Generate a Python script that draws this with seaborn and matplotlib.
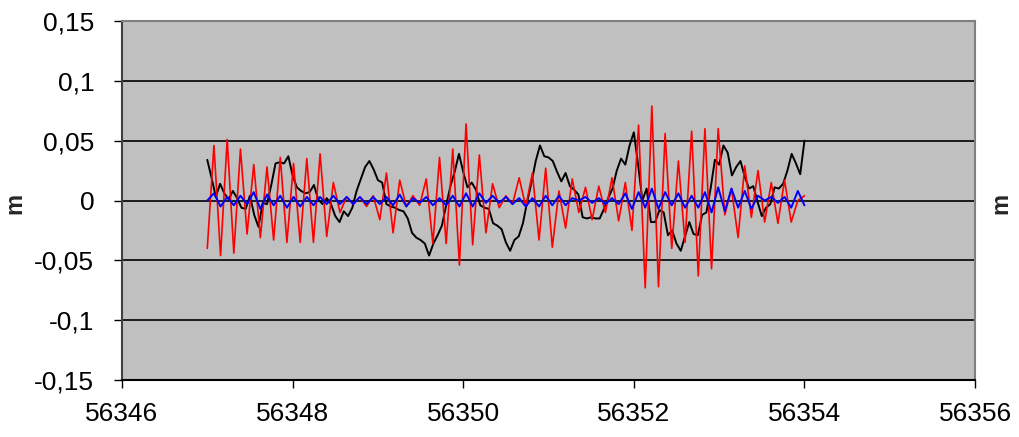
import numpy as np
import pandas as pd
import matplotlib
matplotlib.use("Agg")
import matplotlib.pyplot as plt
import seaborn as sns

# valores (MJD, metros)
t_red = np.linspace(56347.0, 56354.0, 91)
red = [-0.040, 0.046, -0.046, 0.051, -0.044, 0.043, -0.028, 0.030, -0.031, 0.028,
       -0.033, 0.036, -0.035, 0.031, -0.035, 0.035, -0.035, 0.039, -0.030, 0.015,
       -0.010, 0.003, -0.003, 0.003, -0.005, 0.004, -0.016, 0.023, -0.027, 0.017,
       -0.005, 0.004, -0.004, 0.018, -0.036, 0.036, -0.036, 0.043, -0.054, 0.064,
       -0.037, 0.038, -0.027, 0.014, -0.006, 0.004, -0.003, 0.019, -0.005, 0.023,
       -0.033, 0.027, -0.039, 0.008, -0.023, 0.018, -0.010, 0.011, -0.016, 0.012,
       -0.010, 0.019, -0.017, 0.015, -0.025, 0.063, -0.073, 0.079, -0.072, 0.056,
       -0.040, 0.033, -0.035, 0.058, -0.063, 0.060, -0.057, 0.060, -0.012, 0.010,
       -0.031, 0.029, -0.014, 0.025, -0.018, 0.015, -0.019, 0.017, -0.018, 0.000,
       0.004]

t_blue = np.linspace(56347.0, 56354.0, 91)
blue = [0.000, 0.006, -0.005, 0.003, -0.004, 0.004, -0.003, 0.007, -0.007, 0.005,
        -0.004, 0.004, -0.006, 0.003, -0.005, 0.003, -0.004, 0.003, -0.003, 0.004,
        -0.003, 0.003, -0.003, 0.003, -0.003, 0.003, -0.003, 0.003, -0.004, 0.005,
        -0.005, 0.002, -0.002, 0.003, -0.004, 0.002, -0.004, 0.004, -0.005, 0.006,
        -0.005, 0.006, -0.002, 0.004, -0.002, 0.003, -0.003, 0.002, -0.005, 0.002,
        -0.005, 0.004, -0.004, 0.004, -0.004, 0.002, 0.000, 0.003, -0.002, 0.002,
        -0.003, 0.002, -0.003, 0.006, -0.007, 0.007, -0.006, 0.010, -0.007, 0.007,
        -0.004, 0.006, -0.006, 0.004, -0.006, 0.007, -0.010, 0.011, -0.009, 0.010,
        -0.006, 0.008, -0.007, 0.004, 0.000, 0.003, -0.002, 0.003, -0.006, 0.008,
        -0.004]

t_black = np.linspace(56347.0, 56354.0, 141)
black = [0.034, 0.019, 0.003, 0.014, 0.006, 0.001, 0.008, 0.002, -0.006, -0.007,
         0.004, -0.012, -0.022, -0.002, -0.003, 0.013, 0.031, 0.032, 0.031, 0.037,
         0.021, 0.011, 0.008, 0.006, 0.007, 0.013, 0.001, -0.003, 0.002, -0.003,
         -0.013, -0.018, -0.009, -0.013, -0.006, 0.008, 0.018, 0.028, 0.033, 0.026,
         0.017, 0.015, -0.003, -0.005, -0.006, -0.008, -0.009, -0.015, -0.027, -0.031,
         -0.033, -0.036, -0.046, -0.036, -0.029, -0.021, -0.004, 0.012, 0.024, 0.039,
         0.024, 0.011, 0.015, 0.009, -0.004, -0.006, -0.007, -0.019, -0.021, -0.024,
         -0.035, -0.042, -0.033, -0.030, -0.019, -0.001, 0.015, 0.033, 0.046, 0.037,
         0.036, 0.033, 0.024, 0.016, 0.023, 0.012, 0.009, 0.005, -0.014, -0.015,
         -0.014, -0.015, -0.015, -0.007, 0.002, 0.010, 0.025, 0.035, 0.030, 0.046,
         0.057, 0.030, 0.000, 0.010, -0.018, -0.018, -0.008, -0.010, -0.029, -0.025,
         -0.036, -0.042, -0.030, -0.018, -0.028, -0.029, -0.012, -0.010, 0.010, 0.034,
         0.030, 0.046, 0.040, 0.021, 0.028, 0.033, 0.020, 0.010, 0.012, -0.001,
         -0.013, -0.006, -0.003, 0.011, 0.010, 0.014, 0.025, 0.039, 0.031, 0.022,
         0.050]

yticks = [-0.15, -0.1, -0.05, 0, 0.05, 0.1, 0.15]
ylabels = ["-0,15", "-0,1", "-0,05", "0", "0,05", "0,1", "0,15"]
xticks = [56346, 56348, 56350, 56352, 56354, 56356]
xlabels = ["56346", "56348", "56350", "56352", "56354", "56356"]

df_black = pd.DataFrame({"t": t_black, "v": black})
df_red = pd.DataFrame({"t": t_red, "v": red})
df_blue = pd.DataFrame({"t": t_blue, "v": blue})

sns.set_theme(style="white")
plt.rcParams['font.family'] = ['Liberation Sans', 'DejaVu Sans']

fig = plt.figure(figsize=(10.19, 4.37), dpi=100)
ax = fig.add_axes([0.1197, 0.1304, 0.8372, 0.8215])
ax.set_facecolor("#c0c0c0")

sns.lineplot(data=df_black, x="t", y="v", color="black", linewidth=1.4,
             estimator=None, sort=False, ax=ax)
sns.lineplot(data=df_red, x="t", y="v", color="red", linewidth=1.2,
             estimator=None, sort=False, ax=ax)
sns.lineplot(data=df_blue, x="t", y="v", color="blue", linewidth=1.4,
             estimator=None, sort=False, ax=ax)

ax.set_xlim(56346, 56356)
ax.set_ylim(-0.15, 0.15)
ax.set_xticks(xticks)
ax.set_xticklabels(xlabels)
ax.set_yticks(yticks)
ax.set_yticklabels(ylabels)
ax.set_xlabel("")
ax.set_ylabel("")

# grade horizontal preta
for y in yticks[1:-1]:
    ax.axhline(y, color="black", linewidth=1.2, zorder=0.5)

ax.tick_params(axis="both", direction="out", length=6, width=1, color="black",
               labelsize=19, labelcolor="black")
ax.tick_params(axis="y", pad=14, left=True)
ax.tick_params(axis="x", pad=10, bottom=True)

for s in ["top", "right"]:
    ax.spines[s].set_color("#808080")
    ax.spines[s].set_linewidth(1.5)
ax.spines["left"].set_color("#404040")
ax.spines["left"].set_linewidth(1.5)
ax.spines["bottom"].set_color("black")
ax.spines["bottom"].set_linewidth(1.5)

fig.text(0.0147, 0.535, "m", rotation=90, fontsize=17, fontweight="bold",
         ha="center", va="center")
fig.text(0.982, 0.535, "m", rotation=90, fontsize=17, fontweight="bold",
         ha="center", va="center")

fig.savefig("out.png", dpi=100)
